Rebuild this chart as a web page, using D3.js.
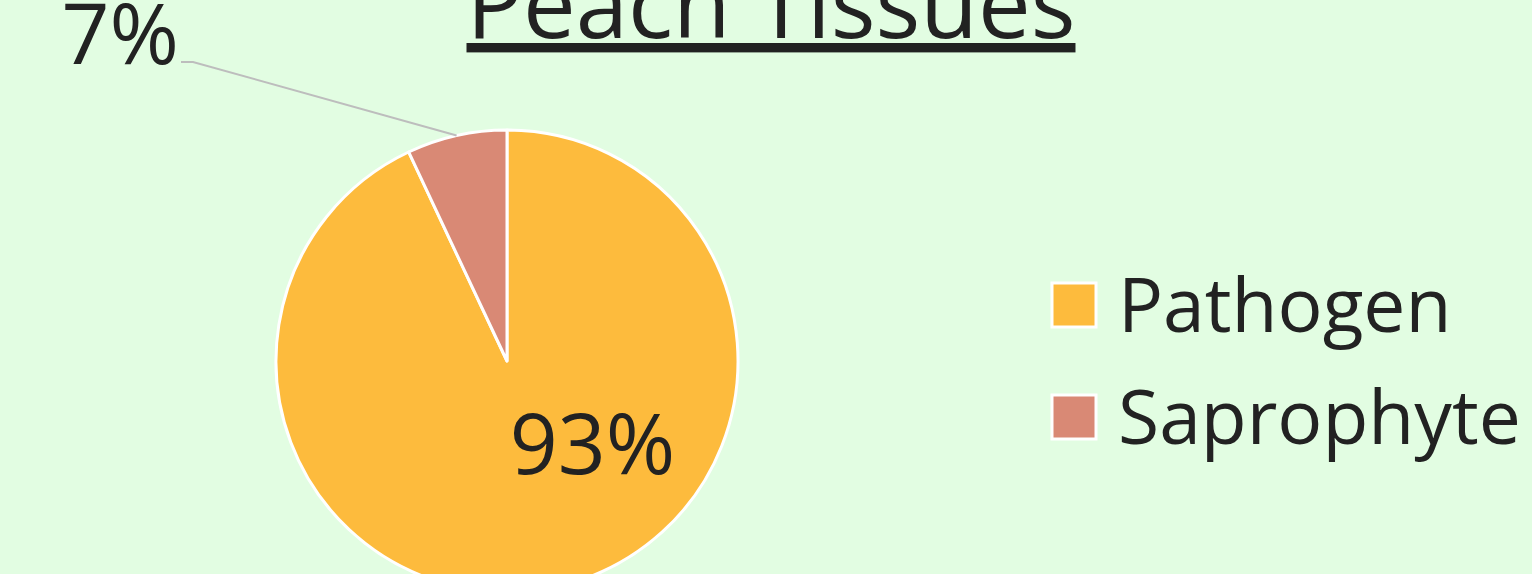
<!DOCTYPE html>
<html>
<head>
<meta charset="utf-8">
<script src="https://cdn.jsdelivr.net/npm/d3@7"></script>
<style>
  html, body { margin: 0; padding: 0; background: #e2fde2; overflow: hidden; }
  svg { display: block; font-family: "Open Sans", "Liberation Sans", Arial, sans-serif; }
</style>
</head>
<body>
<div id="chart"></div>
<script>
var w = 1532;
var h = 574;

var categories = ["Pathogen", "Saprophyte"];
var values = [93, 7];
var labels = ["93%", "7%"];
var colors = ["#fdbb3d", "#d98975"];

var cx = 507, cy = 361, r = 231;

var svg = d3.select("#chart")
            .append("svg")
            .attr("width", w)
            .attr("height", h);

svg.append("rect").attr("width", w).attr("height", h).attr("fill", "#e2fde2");

// title (cut off at the top like the picture)
svg.append("text")
    .attr("x", 771)
    .attr("y", 38)
    .attr("text-anchor", "middle")
    .attr("font-size", 94)
    .attr("fill", "#222")
    .attr("text-decoration", "underline")
    .text("Peach Tissues");

var pie = d3.pie().sort(null).value(function(d) { return d; });
var arcs = pie(values);
var arc = d3.arc().innerRadius(0).outerRadius(r);

var g = svg.append("g").attr("transform", "translate(" + cx + "," + cy + ")");

g.selectAll("path")
    .data(arcs)
    .enter()
    .append("path")
    .attr("d", arc)
    .attr("fill", function(d, i) { return colors[i]; })
    .attr("stroke", "#fff")
    .attr("stroke-width", 3)
    .attr("stroke-linejoin", "round");

// inside label for the big slice
g.append("text")
    .attr("x", r * 0.37)
    .attr("y", r * 0.49)
    .attr("text-anchor", "middle")
    .attr("font-size", 84)
    .attr("fill", "#222")
    .text(labels[0]);

// outside label with leader line for the small slice
var a = (arcs[1].startAngle + arcs[1].endAngle) / 2;
var px = Math.sin(a) * r, py = -Math.cos(a) * r;
var lx = -314, ly = -299;
g.append("polyline")
    .attr("points", [[px, py], [lx, ly], [lx - 12, ly]].map(function(p) { return p.join(","); }).join(" "))
    .attr("fill", "none")
    .attr("stroke", "#bdbdbd")
    .attr("stroke-width", 2);

g.append("text")
    .attr("x", lx - 14)
    .attr("y", ly + 2)
    .attr("text-anchor", "end")
    .attr("font-size", 84)
    .attr("fill", "#222")
    .text(labels[1]);

// legend
var legend = svg.selectAll(".legend")
    .data(categories)
    .enter()
    .append("g")
    .attr("class", "legend")
    .attr("transform", function(d, i) { return "translate(1052," + (283 + i * 112) + ")"; });

legend.append("rect")
    .attr("width", 44)
    .attr("height", 44)
    .attr("fill", function(d, i) { return colors[i]; })
    .attr("stroke", "#fff")
    .attr("stroke-width", 3);

legend.append("text")
    .attr("x", 66)
    .attr("y", 49)
    .attr("font-size", 75)
    .attr("fill", "#222")
    .text(function(d) { return d; });
</script>
</body>
</html>
